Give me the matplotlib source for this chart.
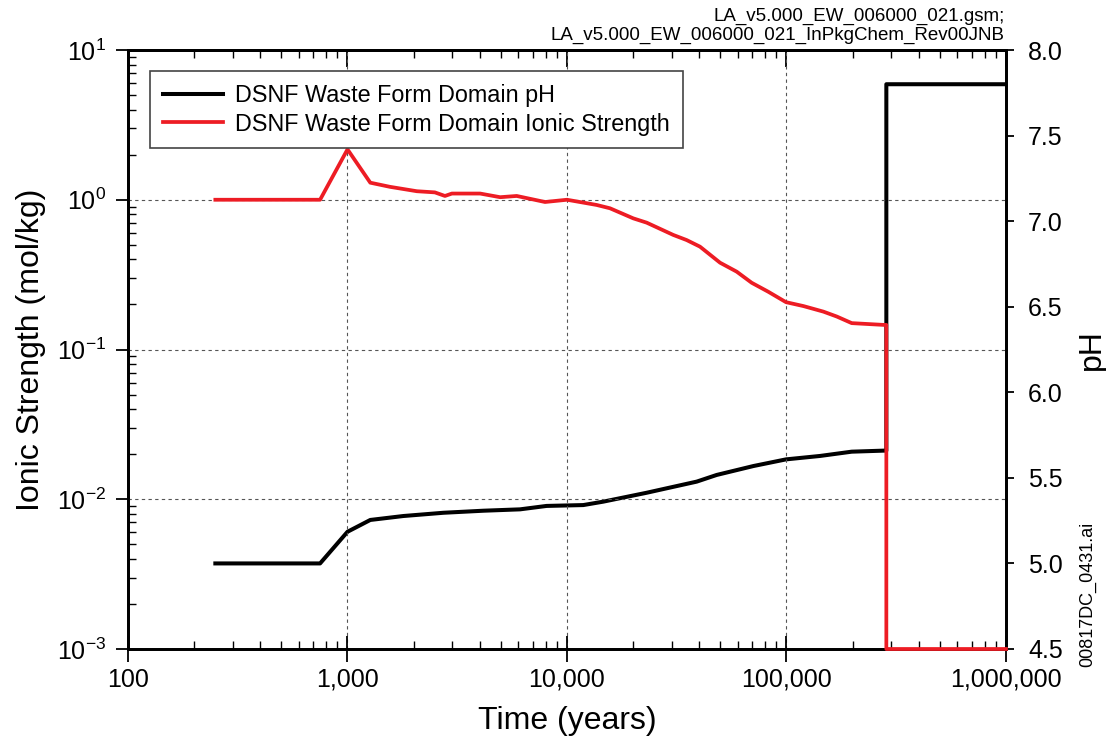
import matplotlib
matplotlib.use("Agg")
import matplotlib.pyplot as plt
from matplotlib.ticker import FuncFormatter, LogLocator, LogFormatterMathtext, NullFormatter

plt.rcParams["font.family"] = ["Liberation Sans", "DejaVu Sans"]
plt.rcParams["mathtext.fontset"] = "custom"
plt.rcParams["mathtext.rm"] = "Liberation Sans"
plt.rcParams["mathtext.it"] = "Liberation Sans:italic"
plt.rcParams["mathtext.bf"] = "Liberation Sans:bold"

# ionic strength (mol/kg) vs time (years)
t_is = [250, 750, 1000, 1270, 1560, 2070, 2500, 2780, 2990, 4020, 4960, 5900,
        7940, 10000, 13650, 15700, 20050, 23070, 30500, 35090, 40360, 49780,
        59300, 69400, 82600, 99500, 119400, 147300, 169500, 198200, 276300,
        285000, 285000, 1000000]
ionic = [1.0, 1.0, 2.17, 1.30, 1.22, 1.14, 1.12, 1.06, 1.10, 1.10, 1.04, 1.06,
         0.966, 1.0, 0.923, 0.877, 0.751, 0.703, 0.582, 0.538, 0.486, 0.380,
         0.331, 0.279, 0.243, 0.207, 0.195, 0.179, 0.166, 0.150, 0.146,
         0.146, 0.001, 0.001]

# pH vs time (years)
t_ph = [250, 750, 1000, 1270, 1795, 2733, 4157, 6109, 8076, 11860, 14630,
        23070, 38990, 48080, 70630, 99500, 142200, 198200, 276300, 285000,
        285000, 1000000]
ph = [5.0, 5.0, 5.185, 5.254, 5.277, 5.296, 5.308, 5.316, 5.336, 5.341, 5.361,
      5.413, 5.478, 5.517, 5.569, 5.608, 5.628, 5.653, 5.659, 5.659, 7.80, 7.80]

x_ticks = [100, 1000, 10000, 100000, 1000000]
ph_ticks = [4.5, 5.0, 5.5, 6.0, 6.5, 7.0, 7.5, 8.0]

fig = plt.figure(figsize=(11.06, 7.42), dpi=100)
ax = fig.add_axes([128 / 1106, 1 - 649 / 742, 878 / 1106, 599 / 742])
ax2 = ax.twinx()

red, = ax.plot(t_is, ionic, color="#ED1C24", lw=2.7, clip_on=False, zorder=3,
               label="DSNF Waste Form Domain Ionic Strength")
blk, = ax2.plot(t_ph, ph, color="black", lw=2.9, zorder=2,
                label="DSNF Waste Form Domain pH")
ax.set_zorder(ax2.get_zorder() + 1)
ax.patch.set_visible(False)

ax.set_xscale("log")
ax.set_yscale("log")
ax.set_xlim(100, 1e6)
ax.set_ylim(1e-3, 1e1)
ax2.set_ylim(4.5, 8.0)

ax.set_xticks(x_ticks)
ax.xaxis.set_major_formatter(FuncFormatter(lambda v, p: f"{int(round(v)):,}"))
ax.xaxis.set_minor_locator(LogLocator(base=10, subs=range(2, 10), numticks=20))
ax.xaxis.set_minor_formatter(NullFormatter())
ax.yaxis.set_major_locator(LogLocator(base=10, numticks=10))
ax.yaxis.set_major_formatter(LogFormatterMathtext())
ax.yaxis.set_minor_locator(LogLocator(base=10, subs=range(2, 10), numticks=20))
ax.yaxis.set_minor_formatter(NullFormatter())

ax2.set_yticks(ph_ticks)
ax2.yaxis.set_major_formatter(FuncFormatter(lambda v, p: f"{v:.1f}"))

ax.grid(True, which="major", ls=(0, (3, 3)), color="#555555", lw=0.8)

ax.tick_params(axis="x", which="major", direction="inout", length=19, width=1.3,
               labelsize=18, pad=4, top=False)
ax.tick_params(axis="x", which="minor", direction="in", length=6, width=1.0, top=False)
ax.tick_params(axis="y", which="major", direction="out", length=9, width=1.3,
               labelsize=18, pad=7, right=False)
ax.tick_params(axis="y", which="minor", direction="in", length=6, width=1.0, right=False)
ax2.tick_params(axis="y", which="major", direction="out", length=6, width=1.3,
                labelsize=18, pad=10)

sec = ax.secondary_xaxis("top")
sec.set_xticks(x_ticks)
sec.xaxis.set_minor_locator(LogLocator(base=10, subs=range(2, 10), numticks=20))
sec.tick_params(which="major", direction="in", length=12, width=1.3, labeltop=False)
sec.tick_params(which="minor", direction="in", length=6, width=1.0)
sec.xaxis.set_major_formatter(NullFormatter())
sec.xaxis.set_minor_formatter(NullFormatter())

for a in (ax, ax2):
    for s in a.spines.values():
        s.set_linewidth(2.0)
sec.spines["top"].set_linewidth(2.0)

ax.set_xlabel("Time (years)", fontsize=23, labelpad=10)
ax.set_ylabel("Ionic Strength (mol/kg)", fontsize=23, labelpad=8)
ax2.set_ylabel("pH", fontsize=23, labelpad=10)

leg = ax.legend(handles=[blk, red], loc="upper left",
                bbox_to_anchor=(0.025, 0.965), borderaxespad=0, fontsize=16.8,
                fancybox=False, framealpha=1, edgecolor="#444444",
                handlelength=2.6, handletextpad=0.5, borderpad=0.55,
                labelspacing=0.25)
leg.get_frame().set_linewidth(1.2)

fig.text(1005 / 1106, 1 - 44 / 742,
         "LA_v5.000_EW_006000_021.gsm;\nLA_v5.000_EW_006000_021_InPkgChem_Rev00JNB",
         ha="right", va="bottom", fontsize=13.5, linespacing=1.15)
fig.text(1088 / 1106, 1 - 594 / 742, "00817DC_0431.ai", rotation=90,
         ha="center", va="center", fontsize=13)

fig.savefig("out.png", dpi=100)
